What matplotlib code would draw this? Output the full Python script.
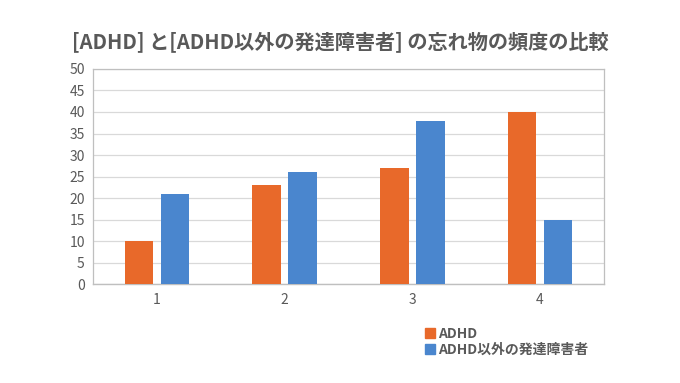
import numpy as np
import matplotlib.pyplot as plt
from matplotlib.patches import Patch

plt.rcParams['font.family'] = ['Noto Sans CJK JP', 'DejaVu Sans']

categories = ['1', '2', '3', '4']
adhd = [10, 23, 27, 40]
other = [21, 26, 38, 15]
series_names = ['ADHD', 'ADHD以外の発達障害者']
colors = ['#E8692A', '#4A86CE']
text_gray = '#595959'

fig = plt.figure(figsize=(6.8, 3.83), dpi=100)
ax = fig.add_axes([0.137, 0.258, 0.751, 0.562])

x = np.arange(len(categories))
w = 0.227
gap = 0.055
ax.bar(x - (w + gap) / 2, adhd, width=w, color=colors[0], zorder=3)
ax.bar(x + (w + gap) / 2, other, width=w, color=colors[1], zorder=3)

ax.set_xlim(-0.5, len(categories) - 0.5)
ax.set_ylim(0, 50)
ax.set_yticks(np.arange(0, 51, 5))
ax.set_xticks(x)
ax.set_xticklabels(categories)
ax.yaxis.grid(True, color='#D9D9D9', linewidth=0.9, zorder=0)
ax.tick_params(axis='both', length=0, colors=text_gray, labelsize=10, pad=6)
for side in ['left', 'top', 'right']:
    ax.spines[side].set_color('#BFBFBF')
    ax.spines[side].set_linewidth(0.9)
ax.spines['bottom'].set_color('#BFBFBF')
ax.spines['bottom'].set_linewidth(1.0)

fig.text(0.5, 0.89, '[ADHD] と[ADHD以外の発達障害者] の忘れ物の頻度の比較',
         ha='center', va='center', fontsize=14.5, color=text_gray, fontweight='bold')

handles = [Patch(color=c, label=n) for c, n in zip(colors, series_names)]
leg = fig.legend(handles=handles, loc='upper left', bbox_to_anchor=(0.615, 0.165),
                 frameon=False, fontsize=10, handlelength=0.7, handleheight=0.7,
                 handletextpad=0.2, labelspacing=0.15, borderpad=0)
for t in leg.get_texts():
    t.set_color(text_gray)
    t.set_fontweight('bold')

fig.savefig('out.png', dpi=100, facecolor='white')
